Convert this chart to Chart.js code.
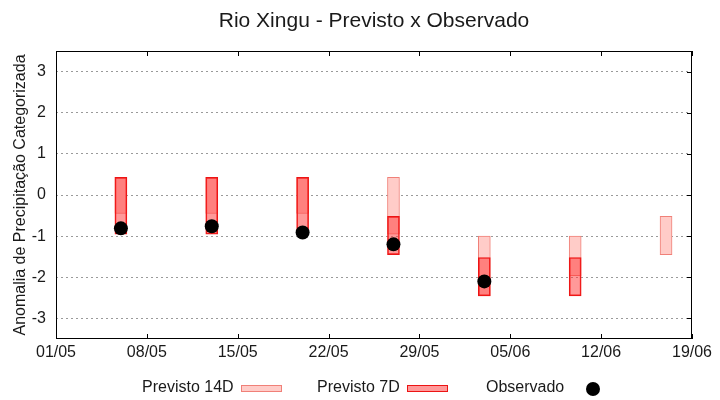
<!DOCTYPE html>
<html>
<head>
<meta charset="utf-8">
<script src="https://cdn.jsdelivr.net/npm/chart.js@4.4.1/dist/chart.umd.min.js"></script>
<style>
  html, body { margin: 0; padding: 0; background: #fff; }
  #wrap { width: 720px; height: 400px; }
</style>
</head>
<body>
<div id="wrap"><canvas id="chart" width="720" height="400"></canvas></div>
<script>
// ======= Dados =======
const categorias = ['06/05', '13/05', '20/05', '27/05', '03/06', '10/06', '17/06'];
const prev14Min = [-0.45, -0.45, -0.45, -0.95, -2.45, -1.96, -1.45];
const prev14Max = [0.43, 0.43, 0.43, 0.43, -1.0, -1.0, -0.52];
const prev7Min = [-0.95, -0.95, -0.95, -1.45, -2.45, -2.45, null];
const prev7Max = [0.43, 0.43, 0.43, -0.52, -1.52, -1.52, null];
const observado = [-0.81, -0.76, -0.91, -1.20, -2.10, null, null];
const xTickLabels = ['01/05', '08/05', '15/05', '22/05', '29/05', '05/06', '12/06', '19/06'];
const yTicks = [-3, -2, -1, 0, 1, 2, 3];

const FONT = "'Liberation Sans', Arial, sans-serif";

// dias desde 01/05
function dia(s) {
  const [d, m] = s.split('/').map(Number);
  return (Date.UTC(2024, m - 1, d) - Date.UTC(2024, 4, 1)) / 86400000;
}

function barras(mins, maxs) {
  const out = [];
  categorias.forEach((c, i) => {
    if (mins[i] !== null && maxs[i] !== null) out.push({ x: dia(c), y: [mins[i], maxs[i]] });
  });
  return out;
}

const pontos = [];
categorias.forEach((c, i) => {
  if (observado[i] !== null) pontos.push({ x: dia(c), y: observado[i] });
});

// ======= Titulo, moldura, marcas e legenda =======
const decor = {
  id: 'decor',
  afterDraw(chart) {
    const { ctx, chartArea: a, scales } = chart;
    ctx.save();
    // moldura
    ctx.strokeStyle = '#000';
    ctx.lineWidth = 1;
    ctx.strokeRect(a.left + 0.5, a.top + 0.5, a.right - a.left - 1, a.bottom - a.top - 1);
    // marcas do eixo x (base e topo)
    ctx.beginPath();
    scales.x.ticks.forEach(t => {
      const px = Math.round(scales.x.getPixelForValue(t.value)) + 0.5;
      ctx.moveTo(px, a.bottom); ctx.lineTo(px, a.bottom - 5);
      ctx.moveTo(px, a.top); ctx.lineTo(px, a.top + 5);
    });
    // marcas do eixo y (direita)
    scales.y.ticks.forEach(t => {
      const py = Math.round(scales.y.getPixelForValue(t.value)) + 0.5;
      ctx.moveTo(a.right, py); ctx.lineTo(a.right - 5, py);
    });
    ctx.stroke();

    // titulo
    ctx.fillStyle = '#1a1a1a';
    ctx.font = '21px ' + FONT;
    ctx.textAlign = 'center';
    ctx.textBaseline = 'alphabetic';
    ctx.fillText('Rio Xingu - Previsto x Observado', (a.left + a.right) / 2, 27);

    // legenda (estilo gnuplot: texto e amostra a direita)
    const itens = [
      { ds: chart.data.datasets[2], x: 142, box: 241 },
      { ds: chart.data.datasets[1], x: 317, box: 407 },
      { ds: chart.data.datasets[0], x: 486, box: 586 }
    ];
    ctx.font = '16px ' + FONT;
    ctx.textAlign = 'left';
    itens.forEach(it => {
      ctx.fillStyle = '#1a1a1a';
      ctx.fillText(it.ds.label, it.x, 392);
      if (it.ds.type === 'bar') {
        ctx.fillStyle = '#fff';
        ctx.fillRect(it.box, 385, 41, 6);
        ctx.fillStyle = it.ds.backgroundColor;
        ctx.fillRect(it.box, 385, 41, 6);
        ctx.strokeStyle = it.ds.borderColor;
        ctx.lineWidth = 1;
        ctx.strokeRect(it.box + 0.5, 385.5, 40, 6);
      } else {
        ctx.fillStyle = '#000';
        ctx.beginPath();
        ctx.arc(it.box + 7, 389, 7, 0, Math.PI * 2);
        ctx.fill();
      }
    });
    ctx.restore();
  }
};

const ctx = document.getElementById('chart').getContext('2d');
new Chart(ctx, {
  data: {
    datasets: [
      {
        type: 'line',
        label: 'Observado',
        data: pontos,
        showLine: false,
        pointRadius: 7,
        pointHoverRadius: 7,
        pointBackgroundColor: '#000',
        pointBorderColor: '#000',
        pointBorderWidth: 0,
        order: 0
      },
      {
        type: 'bar',
        label: 'Previsto 7D',
        data: barras(prev7Min, prev7Max),
        backgroundColor: 'rgba(255, 51, 51, 0.5)',
        borderColor: 'rgb(236, 20, 20)',
        borderWidth: 1,
        borderSkipped: false,
        barThickness: 12,
        grouped: false,
        order: 1
      },
      {
        type: 'bar',
        label: 'Previsto 14D',
        data: barras(prev14Min, prev14Max),
        backgroundColor: 'rgb(255, 204, 200)',
        borderColor: 'rgb(240, 128, 120)',
        borderWidth: 1,
        borderSkipped: false,
        barThickness: 12,
        grouped: false,
        order: 2
      }
    ]
  },
  options: {
    responsive: false,
    animation: false,
    layout: { padding: { left: 0, right: 28, top: 51, bottom: 31 } },
    plugins: {
      legend: { display: false },
      title: { display: false },
      tooltip: { enabled: false }
    },
    scales: {
      x: {
        type: 'linear',
        min: 0,
        max: 49,
        offset: false,
        afterBuildTicks: s => { s.ticks = xTickLabels.map(l => ({ value: dia(l) })); },
        afterFit: s => { s.height = 30; },
        grid: { display: false, drawTicks: false },
        border: { display: false },
        ticks: {
          autoSkip: false,
          maxRotation: 0,
          padding: 4,
          color: '#1a1a1a',
          font: { family: FONT, size: 16 },
          callback: (v, i) => xTickLabels[i]
        }
      },
      y: {
        type: 'linear',
        min: -3.5,
        max: 3.5,
        afterBuildTicks: s => { s.ticks = yTicks.map(v => ({ value: v })); },
        afterFit: s => { s.width = 56; },
        grid: { color: '#9a9a9a', lineWidth: 1, drawTicks: false },
        border: { display: false, dash: [2, 3] },
        ticks: {
          padding: 10,
          color: '#1a1a1a',
          font: { family: FONT, size: 16 },
          callback: v => String(v)
        },
        title: {
          display: true,
          text: 'Anomalia de Precipitação Categorizada',
          color: '#1a1a1a',
          font: { family: FONT, size: 16 },
          padding: { top: 11, bottom: 0 }
        }
      }
    }
  },
  plugins: [decor]
});
</script>
</body>
</html>
